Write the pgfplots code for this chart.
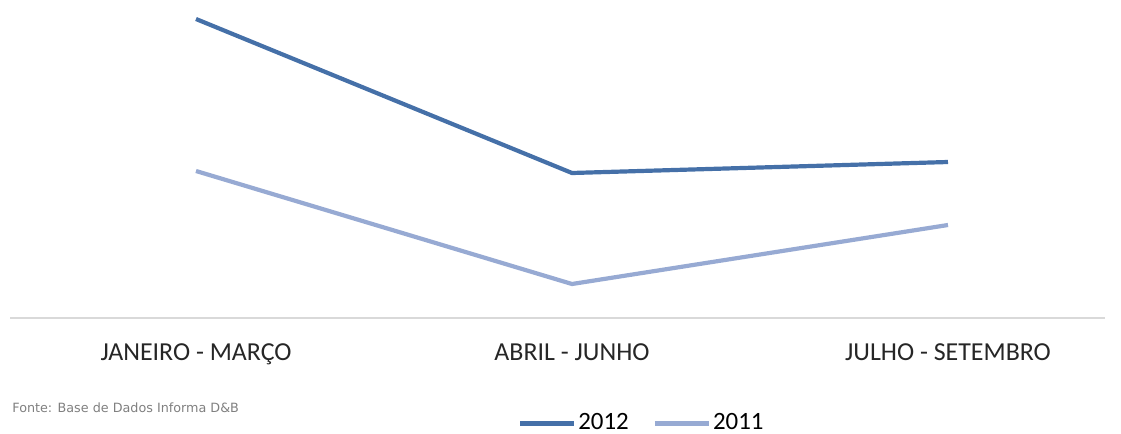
\documentclass[border=0pt]{standalone}
\usepackage{pgfplots}
\pgfplotsset{compat=1.18}
\usepackage{fontspec}
\setmainfont{Carlito}
\newfontfamily\srcfont{DejaVu Sans}
\definecolor{c2012}{HTML}{4570A8}
\definecolor{c2011}{HTML}{97AAD3}
\definecolor{axgray}{HTML}{D9D9D9}
\begin{document}
\begin{tikzpicture}
\begin{axis}[
    scale only axis,
    width=547.5bp, height=155bp,
    at={(0,0)}, anchor=south west,
    xmin=-0.4947, xmax=2.4176,
    ymin=0, ymax=310,
    axis x line=bottom,
    axis y line=none,
    x axis line style={draw=axgray, line width=1.1bp, -},
    xtick={0,1,2},
    xticklabels={JANEIRO - MARÇO, ABRIL - JUNHO, JULHO - SETEMBRO},
    xtick style={draw=none},
    xticklabel style={font=\fontsize{13}{15}\selectfont, text=black!85, anchor=north, yshift=-7bp},
    ytick=\empty,
    clip=false,
    legend columns=2,
    legend style={at={(0.577,-0.340)}, anchor=center, draw=none, fill=none,
        font=\fontsize{12.5}{14}\selectfont, inner sep=0pt,
        nodes={inner sep=1bp},
        /tikz/every even column/.append style={column sep=11bp}},
    legend image code/.code={\draw[#1, line width=2.1bp] (0bp,0bp) -- (27bp,0bp);},
]
\addplot[c2012, line width=2.1bp] coordinates {(0,299) (1,145) (2,156)};
\addlegendentry{2012}
\addplot[c2011, line width=2.1bp] coordinates {(0,147) (1,34) (2,93)};
\addlegendentry{2011}
\node[anchor=west, inner sep=0pt, text=black!50, font=\srcfont\fontsize{6.4}{8}\selectfont]
    at (rel axis cs:0.0018,-0.290) {Fonte: Base de Dados Informa D\&B};
\end{axis}
\pgfresetboundingbox
\useasboundingbox (-5bp,-58bp) rectangle (555.5bp,159bp);
\end{tikzpicture}
\end{document}
